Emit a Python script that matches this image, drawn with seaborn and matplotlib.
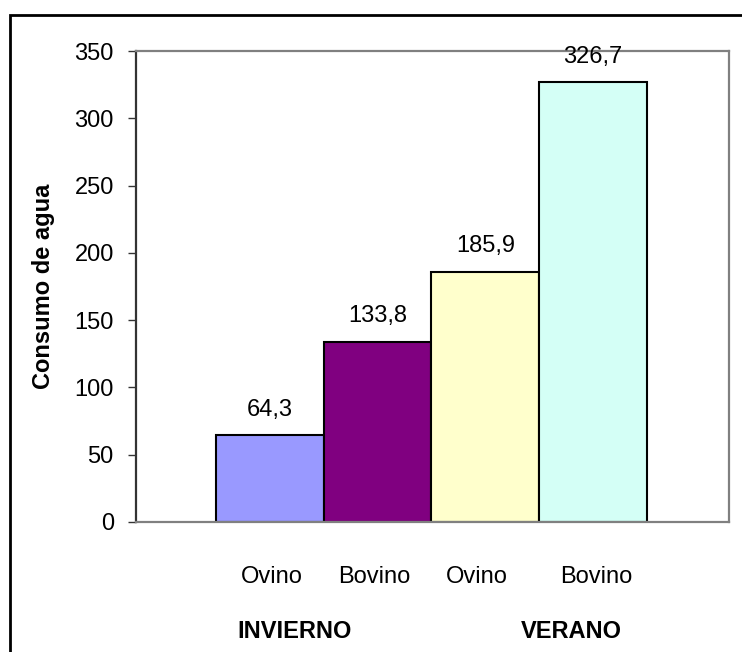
import matplotlib
matplotlib.use("Agg")
import matplotlib.pyplot as plt
import matplotlib.transforms as mtransforms
from matplotlib.patches import Rectangle
import pandas as pd
import seaborn as sns

# data
barras = ["Ovino invierno", "Bovino invierno", "Ovino verano", "Bovino verano"]
especies = ["Ovino", "Bovino", "Ovino", "Bovino"]
consumo = [64.3, 133.8, 185.9, 326.7]
estaciones = ["INVIERNO", "VERANO"]
colores = ["#9999FF", "#800080", "#FFFFCC", "#D4FFF6"]

df = pd.DataFrame({"barra": barras, "consumo": consumo})

sns.set_style("white")
plt.rcParams["font.family"] = ["Liberation Sans", "DejaVu Sans"]
plt.rcParams["text.color"] = "black"
plt.rcParams["axes.labelcolor"] = "black"
plt.rcParams["ytick.labelcolor"] = "black"

fig = plt.figure(figsize=(7.42, 6.52), dpi=100)
ax = fig.add_axes([136 / 742, 1 - 522 / 652, (729 - 136) / 742, (522 - 51) / 652])

sns.barplot(data=df, x="barra", y="consumo", hue="barra", palette=colores,
            saturation=1, width=1, edgecolor="black", linewidth=1.5,
            legend=False, ax=ax)

ax.set_ylim(0, 350)
ax.set_yticks(range(0, 351, 50))
ax.set_xlim(-1.242, 4.261)
ax.set_xticks([])
ax.set_xlabel("")
ax.set_ylabel("Consumo de agua", fontsize=17, fontweight="bold", labelpad=14)
ax.tick_params(axis="y", direction="out", length=6, width=1, color="#333333",
               labelsize=17, pad=10, left=True)

for side in ["top", "right", "bottom"]:
    ax.spines[side].set_color("#808080")
    ax.spines[side].set_linewidth(1.6)
ax.spines["left"].set_color("#333333")
ax.spines["left"].set_linewidth(1.6)

# value labels above each bar
for i, v in enumerate(consumo):
    ax.annotate(f"{v:.1f}".replace(".", ","), (i, v), xytext=(0, 14),
                textcoords="offset points", ha="center", va="baseline", fontsize=17)

# species and season labels under the plot
trans = mtransforms.blended_transform_factory(ax.transData, fig.transFigure)
nudge = [0.02, -0.03, -0.08, 0.03]
for i, esp in enumerate(especies):
    fig.text(i + nudge[i], 1 - 577 / 652, esp, transform=trans,
             ha="center", va="center", fontsize=17)
for x, est in zip([0.23, 2.8], estaciones):
    fig.text(x, 1 - 632 / 652, est, transform=trans, ha="center", va="center",
             fontsize=17, fontweight="bold")

# outer frame of the chart object (right and bottom edges fall outside the image)
top = 1 - 15 / 652
fig.add_artist(Rectangle((10 / 742, -0.2), 1.2, top + 0.2,
                         transform=fig.transFigure, fill=False,
                         edgecolor="black", linewidth=2, clip_on=False))

fig.savefig("out.png", dpi=100)
